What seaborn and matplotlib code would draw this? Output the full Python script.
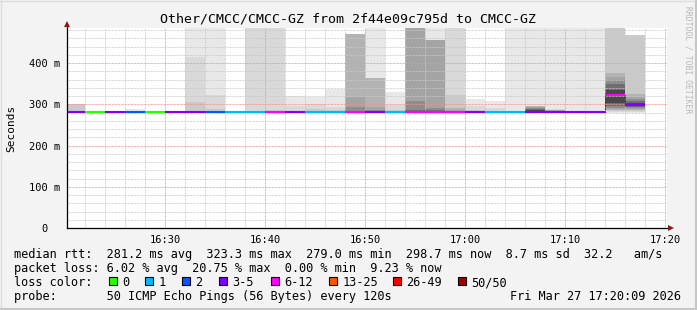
import matplotlib
matplotlib.use("Agg")
import matplotlib.pyplot as plt
import numpy as np
import seaborn as sns

# ---------------- data (minutes after 16:00, values in ms) ----------------
interval_start = [20, 22, 24, 26, 28, 30, 32, 34, 36, 38, 40, 42, 44, 46, 48,
                  50, 52, 54, 56, 58, 60, 62, 64, 66, 68, 70, 72, 74, 76]
median_ms = [281, 281, 281, 281, 281, 281, 281, 281, 281, 281, 281, 281, 281, 281, 281,
             281, 281, 281, 281, 281, 281, 281, 281, 281, 281, 281, 281, 323.3, 298.7]
loss_class = ['3-5', '0', '3-5', '2', '0', '3-5', '3-5', '2', '1', '1', '6-12', '3-5', '1', '1', '6-12',
              '3-5', '1', '6-12', '6-12', '6-12', '3-5', '1', '1', '3-5', '3-5', '3-5', '3-5', '6-12', '3-5']

# smoke: ping values at given rank counted from the top (up_*) and bottom (lo_*)
smoke_ranks = [1, 3, 5, 8, 10, 13, 17, 22]
up_r1 = [301, 282, 282, 288, 282, 282, 600, 600, 284, 600, 600, 319, 318, 337, 471,
         600, 331, 600, 600, 600, 313, 308, 600, 600, 600, 600, 600, 600, 467]
up_r3 = [301, 282, 282, 282, 282, 282, 414, 323, 282, 600, 600, 296, 300, 293, 471,
         364, 299, 600, 455, 600, 295, 290, 283, 297, 288, 282, 282, 600, 467]
up_r5 = [301, 282, 282, 282, 282, 282, 305, 288, 282, 283, 285, 284, 289, 285, 471,
         364, 285, 600, 455, 323, 287, 282, 282, 296, 287, 282, 282, 600, 467]
up_r8 = [283, 282, 282, 282, 282, 282, 284, 283, 282, 282, 282, 282, 284, 283, 471,
         364, 282, 600, 455, 292, 282, 282, 282, 295, 286, 282, 282, 377, 324]
up_r10 = [282, 282, 282, 282, 282, 282, 283, 282, 282, 282, 282, 282, 282, 282, 317,
          293, 282, 600, 455, 286, 282, 282, 282, 294, 285, 282, 282, 366, 318]
up_r13 = [282, 282, 282, 282, 282, 282, 282, 282, 282, 282, 282, 282, 282, 282, 293,
          286, 282, 307, 291, 282, 282, 282, 282, 292, 284, 282, 282, 358, 312]
up_r17 = [282, 282, 282, 282, 282, 282, 282, 282, 282, 282, 282, 282, 282, 282, 284,
          283, 282, 286, 285, 282, 282, 282, 282, 289, 283, 282, 282, 348, 307]
up_r22 = [282, 282, 282, 282, 282, 282, 282, 282, 282, 282, 282, 282, 282, 282, 282,
          282, 282, 283, 283, 282, 282, 282, 282, 286, 282, 282, 282, 335, 303]
lo_r1 = [279.5, 279.5, 279.5, 279.5, 279.5, 279.5, 279.5, 279.5, 279.5, 279.5, 279.5, 279.5, 279.5, 279.5, 279.5,
         279.5, 279.5, 279.5, 279.5, 279.5, 279.5, 279.5, 279.5, 279.5, 279.5, 279.5, 279.5, 280, 280]
lo_r3 = [279.5, 279.5, 279.5, 279.5, 279.5, 279.5, 279.5, 279.5, 279.5, 279.5, 279.5, 279.5, 279.5, 279.5, 279.5,
         279.5, 279.5, 279.5, 279.5, 279.5, 279.5, 279.5, 279.5, 279.5, 279.5, 279.5, 279.5, 281, 281]
lo_r5 = [279.5, 279.5, 279.5, 279.5, 279.5, 279.5, 279.5, 279.5, 279.5, 279.5, 279.5, 279.5, 279.5, 279.5, 279.5,
         279.5, 279.5, 279.5, 279.5, 279.5, 279.5, 279.5, 279.5, 279.5, 279.5, 279.5, 279.5, 283, 283]
lo_r8 = [279.5, 279.5, 279.5, 279.5, 279.5, 279.5, 279.5, 279.5, 279.5, 279.5, 279.5, 279.5, 279.5, 279.5, 279.5,
         279.5, 279.5, 279.5, 279.5, 279.5, 279.5, 279.5, 279.5, 279.5, 279.5, 279.5, 279.5, 286, 286]
lo_r10 = [279.5, 279.5, 279.5, 279.5, 279.5, 279.5, 279.5, 279.5, 279.5, 279.5, 279.5, 279.5, 279.5, 279.5, 279.5,
          279.5, 279.5, 279.5, 279.5, 279.5, 279.5, 279.5, 279.5, 279.5, 279.5, 279.5, 279.5, 289, 288]
lo_r13 = [279.5, 279.5, 279.5, 279.5, 279.5, 279.5, 279.5, 279.5, 279.5, 279.5, 279.5, 279.5, 279.5, 279.5, 279.5,
          279.5, 279.5, 279.5, 279.5, 279.5, 279.5, 279.5, 279.5, 279.5, 279.5, 279.5, 279.5, 292, 291]
lo_r17 = [279.5, 279.5, 279.5, 279.5, 279.5, 279.5, 279.5, 279.5, 279.5, 279.5, 279.5, 279.5, 279.5, 279.5, 279.5,
          279.5, 279.5, 279.5, 279.5, 279.5, 279.5, 279.5, 279.5, 279.5, 279.5, 279.5, 279.5, 297, 294]
lo_r22 = [279.5, 279.5, 279.5, 279.5, 279.5, 279.5, 279.5, 279.5, 279.5, 279.5, 279.5, 279.5, 279.5, 279.5, 279.5,
          279.5, 279.5, 279.5, 279.5, 279.5, 279.5, 279.5, 279.5, 279.5, 279.5, 279.5, 279.5, 304, 296]

loss_labels = ['0', '1', '2', '3-5', '6-12', '13-25', '26-49', '50/50']
loss_colors = ['#26ff00', '#00b8ff', '#0059ff', '#7e00ff', '#ff00ff', '#ff5500', '#ff0000', '#a10000']

xtick_pos = [30, 40, 50, 60, 70, 80]
xtick_labels = ['16:30', '16:40', '16:50', '17:00', '17:10', '17:20']
ytick_pos = [0, 100, 200, 300, 400]
ytick_labels = ['0  ', '100 m', '200 m', '300 m', '400 m']

title = 'Other/CMCC/CMCC-GZ from 2f44e09c795d to CMCC-GZ'
rtt_line = 'median rtt:  281.2 ms avg  323.3 ms max  279.0 ms min  298.7 ms now  8.7 ms sd  32.2   am/s'
loss_line = 'packet loss: 6.02 % avg  20.75 % max  0.00 % min  9.23 % now'
probe_line = 'probe:       50 ICMP Echo Pings (56 Bytes) every 120s'
date_text = 'Fri Mar 27 17:20:09 2026'

# ---------------- figure ----------------
sns.set_style('white')
plt.rcParams['font.family'] = ['DejaVu Sans Mono']

W, H = 697, 310
fig = plt.figure(figsize=(W / 100, H / 100), dpi=100)
fig.patch.set_facecolor('#f3f3f3')

def fx(x):
    return x / W

def fy(y):
    return 1 - y / H

ax = fig.add_axes([fx(67), fy(228), (666.5 - 67) / W, 200 / H])
ax.set_facecolor('white')

edges = interval_start + [interval_start[-1] + 2]

def stepvals(v):
    return list(v) + [v[-1]]

ups = [up_r1, up_r3, up_r5, up_r8, up_r10, up_r13, up_r17, up_r22]
los = [lo_r1, lo_r3, lo_r5, lo_r8, lo_r10, lo_r13, lo_r17, lo_r22]
for rank, lo, hi in zip(smoke_ranks, los, ups):
    g = int(190 / 25 * (25 - rank)) + 50
    col = '#{0:02x}{0:02x}{0:02x}'.format(g)
    ax.fill_between(edges, stepvals(lo), stepvals(hi), step='post',
                    color=col, lw=0, zorder=1)

# median: dotted black step connector + loss-coloured segments
sns.lineplot(x=edges, y=stepvals(median_ms), drawstyle='steps-post', color='black',
             linestyle=(0, (0.72, 0.72)), lw=0.72, ax=ax, zorder=3, estimator=None, sort=False)
cmap = dict(zip(loss_labels, loss_colors))
ax.hlines(median_ms, interval_start, [s + 2 for s in interval_start],
          colors=[cmap[c] for c in loss_class], lw=1.5, zorder=4)

ax.set_xlim(20.15, 80.15)
ax.set_ylim(0, 485)
ax.set_xticks(xtick_pos)
ax.set_xticklabels(xtick_labels)
ax.set_xticks(np.arange(22, 81, 2), minor=True)
ax.set_yticks(ytick_pos)
ax.set_yticklabels(ytick_labels)
ax.set_yticks(np.arange(20, 481, 20), minor=True)

dot = (0, (0.72, 0.72))
ax.grid(which='minor', color='#c8c8c8', linestyle=dot, lw=0.72, zorder=2.5)
ax.grid(which='major', color='#f29090', linestyle=dot, lw=0.72, zorder=2.6)
ax.set_axisbelow(False)

for s in ['top', 'right']:
    ax.spines[s].set_visible(False)
for s in ['left', 'bottom']:
    ax.spines[s].set_color('#000000')
    ax.spines[s].set_linewidth(0.9)
    ax.spines[s].set_zorder(5)

ax.tick_params(axis='both', which='major', length=2.9, width=0.72, color='#333333',
               labelsize=7.5, labelcolor='black', direction='out')
ax.tick_params(axis='both', which='minor', length=1.5, width=0.72, color='#666666', direction='out')
ax.tick_params(axis='y', which='major', pad=1.8)
ax.tick_params(axis='x', which='major', pad=1.8)
ax.set_xlabel('')
ax.set_ylabel('')

# axis arrows
ax.plot([0, 0], [1, 1.02], transform=ax.transAxes, clip_on=False, color='black', lw=0.9, zorder=5)
ax.plot([0], [1.022], marker='^', ms=4.2, color='#8b1a1a', transform=ax.transAxes,
        clip_on=False, zorder=6, mew=0)
ax.plot([1, 1.006], [0, 0], transform=ax.transAxes, clip_on=False, color='black', lw=0.9, zorder=5)
ax.plot([1.008], [0], marker='>', ms=4.2, color='#8b1a1a', transform=ax.transAxes,
        clip_on=False, zorder=6, mew=0)

# titles and labels
fig.text(fx(348), fy(19), title, ha='center', va='center', fontsize=9.55, color='black')
fig.text(fx(11), fy(128), 'Seconds', rotation=90, ha='center', va='center', fontsize=8, color='black')
fig.text(fx(688), fy(60), 'RRDTOOL / TOBI OETIKER', rotation=270, ha='center', va='center',
         fontsize=5.8, color='#b8b8b8')

# legend rows
lfs = 8.54
x0 = 14.5
fig.text(fx(x0), fy(258), rtt_line, ha='left', va='baseline', fontsize=lfs, color='black')
fig.text(fx(x0), fy(272), loss_line, ha='left', va='baseline', fontsize=lfs, color='black')
fig.text(fx(x0), fy(286), 'loss color:', ha='left', va='baseline', fontsize=lfs, color='black')
box_x = [109, 145.3, 182.3, 219, 270.7, 329.3, 393.3, 458.3]
for lab, col, bx in zip(loss_labels, loss_colors, box_x):
    fig.patches.append(plt.Rectangle((fx(bx), fy(285)), 8 / W, 8 / H, transform=fig.transFigure,
                                     facecolor=col, edgecolor='black', lw=0.8, figure=fig))
    fig.text(fx(bx + 13.3), fy(286), lab, ha='left', va='baseline', fontsize=lfs, color='black')
fig.text(fx(x0), fy(300), probe_line, ha='left', va='baseline', fontsize=lfs, color='black')
fig.text(fx(681.5), fy(300), date_text, ha='right', va='baseline', fontsize=lfs, color='black')

# bevelled frame
fig.add_artist(plt.Line2D([0, 1], [fy(0.5), fy(0.5)], transform=fig.transFigure, color='#dedede', lw=1))
fig.add_artist(plt.Line2D([fx(0.5), fx(0.5)], [0, 1], transform=fig.transFigure, color='#dedede', lw=1))
fig.add_artist(plt.Line2D([0, 1], [fy(308.5), fy(308.5)], transform=fig.transFigure, color='#c6c6c6', lw=2.2))
fig.add_artist(plt.Line2D([fx(695.5), fx(695.5)], [0, 1], transform=fig.transFigure, color='#c6c6c6', lw=2.2))

fig.savefig('out.png', dpi=100, facecolor=fig.get_facecolor())
